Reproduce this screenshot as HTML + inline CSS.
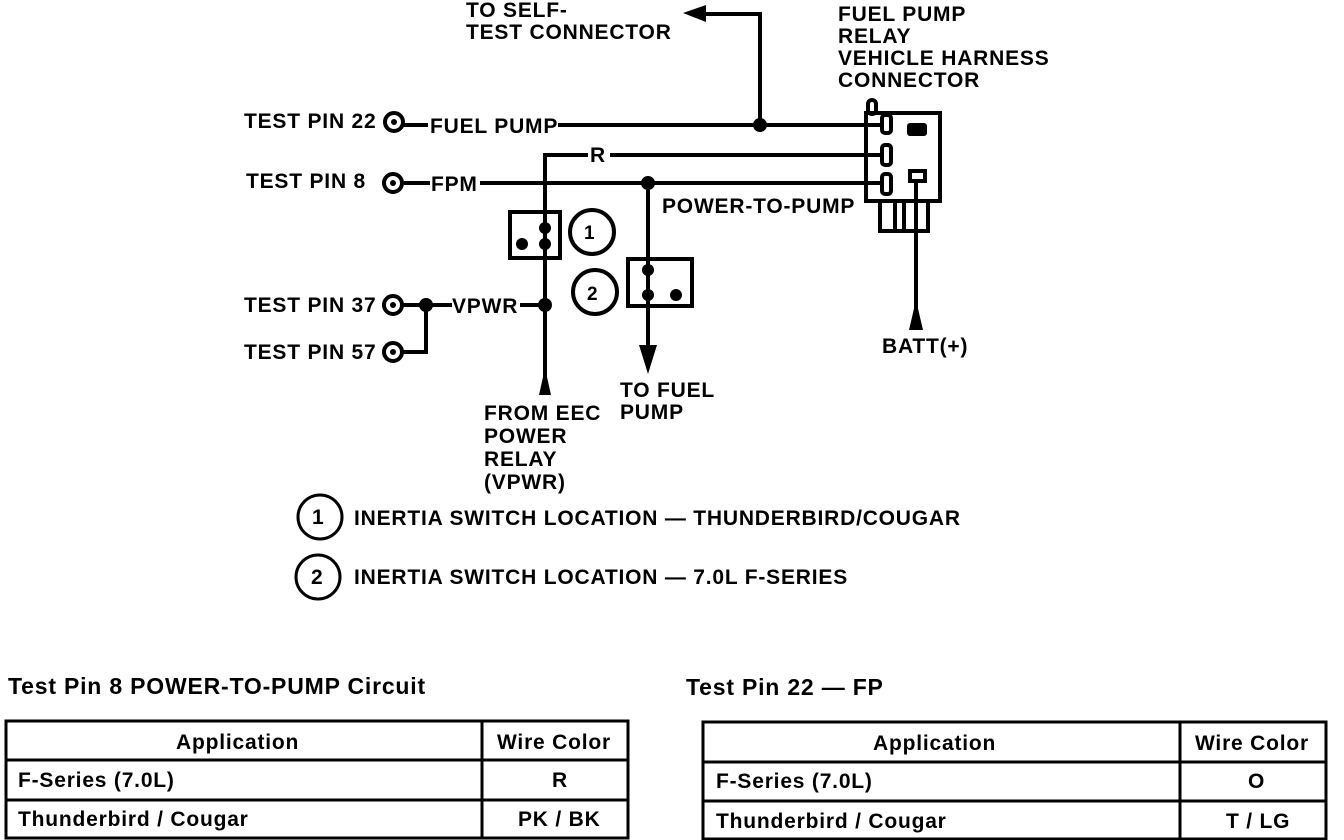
<!DOCTYPE html>
<html><head><style>
body{margin:0;background:#fff;width:1344px;height:840px;overflow:hidden}
svg{display:block}
text{font-family:"Liberation Sans",sans-serif;font-weight:bold;fill:#000;letter-spacing:0.8px}
</style></head><body>
<svg width="1344" height="840" viewBox="0 0 1344 840">
<g stroke="#000" stroke-width="4" fill="none">
<circle cx="394" cy="122" r="9"/><circle cx="393" cy="183" r="9"/><circle cx="393" cy="305" r="9"/><circle cx="393" cy="352" r="9"/>
<line x1="404" y1="125" x2="428" y2="125"/><line x1="558" y1="125" x2="880" y2="125"/>
<polyline points="760,125 760,14 705,14"/>
<polyline points="545,385 545,155 588,155"/><line x1="610" y1="155" x2="880" y2="155"/>
<line x1="404" y1="183" x2="430" y2="183"/><line x1="480" y1="183" x2="880" y2="183"/>
<line x1="648" y1="183" x2="648" y2="345"/>
<rect x="510" y="212" width="50" height="46"/>
<rect x="628" y="259" width="64" height="47"/>
<circle cx="592" cy="232" r="22"/><circle cx="595" cy="292" r="22"/>
<line x1="403" y1="305" x2="452" y2="305"/><line x1="520" y1="305" x2="545" y2="305"/>
<polyline points="403,352 426,352 426,305"/>
<rect x="866" y="113" width="74" height="88"/>
<rect x="868" y="100" width="8" height="14" rx="4"/>
<rect x="882" y="115" width="9" height="18" rx="3"/>
<rect x="882" y="145" width="9" height="20" rx="3"/>
<rect x="882" y="174" width="9" height="20" rx="3"/>
<rect x="910" y="171" width="15" height="10"/>
<rect x="880" y="201" width="48" height="30"/>
<line x1="895" y1="201" x2="895" y2="231"/><line x1="904" y1="201" x2="904" y2="231"/>
<line x1="916" y1="181" x2="916" y2="330"/>
</g>
<g fill="#000">
<circle cx="394" cy="122" r="3"/><circle cx="393" cy="183" r="3"/><circle cx="393" cy="305" r="3"/><circle cx="393" cy="352" r="3"/>
<circle cx="760" cy="125" r="7"/><circle cx="648" cy="183" r="7"/>
<circle cx="545" cy="228" r="6"/><circle cx="545" cy="244" r="6"/><circle cx="522" cy="244" r="6"/>
<circle cx="648" cy="270" r="6"/><circle cx="648" cy="295" r="6"/><circle cx="676" cy="295" r="6"/>
<circle cx="545" cy="305" r="7"/><circle cx="426" cy="305" r="7"/>
<rect x="907" y="123" width="20" height="13" rx="3"/>
<polygon points="683,13 706,5 706,22"/>
<polygon points="539,395 551,395 545,368"/>
<polygon points="639,345 657,345 648,374"/>
<polygon points="909,330 923,330 916,300"/>
</g>
<g font-size="21">
<text x="466" y="17">TO SELF-</text><text x="466" y="39">TEST CONNECTOR</text>
<text x="838" y="21">FUEL PUMP</text><text x="838" y="43">RELAY</text><text x="838" y="65">VEHICLE HARNESS</text><text x="838" y="87">CONNECTOR</text>
<text x="244" y="128">TEST PIN 22</text><text x="430" y="133">FUEL PUMP</text>
<text x="246" y="188">TEST PIN 8</text><text x="431" y="191">FPM</text>
<text x="590" y="162">R</text>
<text x="662" y="213">POWER-TO-PUMP</text>
<text x="244" y="312">TEST PIN 37</text><text x="452" y="313">VPWR</text>
<text x="244" y="359">TEST PIN 57</text>
<text x="882" y="353">BATT(+)</text>
<text x="620" y="397">TO FUEL</text><text x="620" y="419">PUMP</text>
<text x="484" y="420">FROM EEC</text><text x="484" y="443">POWER</text><text x="484" y="466">RELAY</text><text x="484" y="489">(VPWR)</text>
<text x="584" y="239" font-size="19">1</text><text x="587" y="300" font-size="19">2</text>
<text x="354" y="525">INERTIA SWITCH LOCATION — THUNDERBIRD/COUGAR</text>
<text x="354" y="584">INERTIA SWITCH LOCATION — 7.0L F-SERIES</text>
<text x="312" y="524">1</text><text x="311" y="584">2</text>
<text x="8" y="694" font-size="23" letter-spacing="1.3">Test Pin 8 POWER-TO-PUMP Circuit</text>
<text x="686" y="695" font-size="23" letter-spacing="1.3">Test Pin 22 — FP</text>
<text x="176" y="749">Application</text><text x="497" y="749">Wire Color</text>
<text x="18" y="787">F-Series (7.0L)</text><text x="552" y="787">R</text>
<text x="18" y="826">Thunderbird / Cougar</text><text x="518" y="826">PK / BK</text>
<text x="873" y="750">Application</text><text x="1195" y="750">Wire Color</text>
<text x="716" y="788">F-Series (7.0L)</text><text x="1248" y="788">O</text>
<text x="716" y="828">Thunderbird / Cougar</text><text x="1226" y="828">T / LG</text>
</g>
<g stroke="#000" stroke-width="3" fill="none">
<circle cx="320" cy="517" r="22"/><circle cx="318" cy="577" r="22"/>
<rect x="6" y="721" width="622" height="117"/>
<line x1="6" y1="760" x2="628" y2="760"/><line x1="6" y1="800" x2="628" y2="800"/><line x1="482" y1="721" x2="482" y2="838"/>
<rect x="703" y="722" width="623" height="117"/>
<line x1="703" y1="762" x2="1326" y2="762"/><line x1="703" y1="801" x2="1326" y2="801"/><line x1="1180" y1="722" x2="1180" y2="839"/>
</g>
</svg>
</body></html>
